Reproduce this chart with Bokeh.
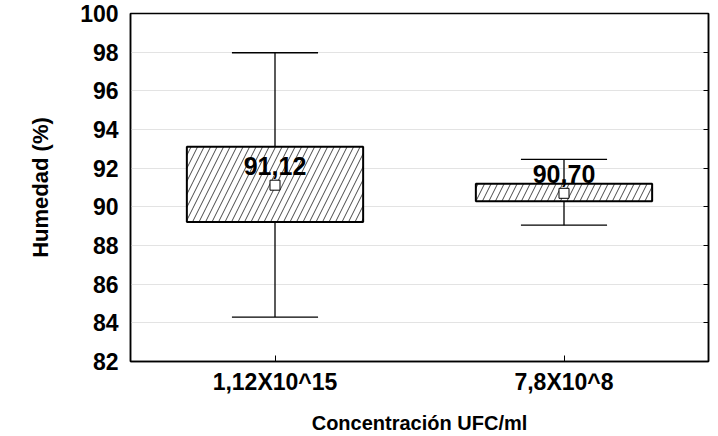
from bokeh.plotting import figure
from bokeh.models import ColumnDataSource, FactorRange, FixedTicker, LinearAxis, Range1d
from bokeh.transform import dodge
from bokeh.core.properties import value
from bokeh.embed import file_html
from bokeh.resources import INLINE

categories = ["1,12X10^15", "7,8X10^8"]
q1 = [89.21, 90.29]
q3 = [93.11, 91.20]
whisker_low = [84.30, 89.05]
whisker_high = [97.97, 92.45]
means = [91.12, 90.70]
mean_labels = ["91,12", "90,70"]
y_ticks = [82, 84, 86, 88, 90, 92, 94, 96, 98, 100]

FONT = "Liberation Sans"

src = ColumnDataSource(dict(cat=categories, q1=q1, q3=q3, lo=whisker_low, hi=whisker_high,
                            mean=means, lab=mean_labels))

p = figure(x_range=FactorRange(*categories), y_range=Range1d(82, 100),
           frame_width=578, frame_height=348,
           min_border_left=130, min_border_right=8, min_border_top=13, min_border_bottom=70,
           output_backend="svg", toolbar_location=None)

p.xgrid.grid_line_color = None
p.ygrid.grid_line_color = "#e3e3e3"
p.ygrid.grid_line_width = 1
p.ygrid.ticker = FixedTicker(ticks=y_ticks)
p.outline_line_color = "black"
p.outline_line_width = 1.5
p.background_fill_color = "white"

# whisker stem
p.segment(x0="cat", y0="lo", x1="cat", y1="hi", source=src, line_color="black", line_width=1.3)
# caps
p.segment(x0=dodge("cat", -0.149, range=p.x_range), y0="hi",
          x1=dodge("cat", 0.149, range=p.x_range), y1="hi", source=src,
          line_color="black", line_width=1.3)
p.segment(x0=dodge("cat", -0.149, range=p.x_range), y0="lo",
          x1=dodge("cat", 0.149, range=p.x_range), y1="lo", source=src,
          line_color="black", line_width=1.3)
# boxes
p.vbar(x="cat", top="q3", bottom="q1", width=0.61, source=src,
       fill_color="white", line_color="black", line_width=2,
       hatch_pattern="/", hatch_color="#333333", hatch_scale=13, hatch_weight=0.9)
# means
p.scatter(x="cat", y="mean", source=src, marker="square", size=10,
          fill_color="white", line_color="black", line_width=1)
p.text(x="cat", y="mean", text="lab", source=src, text_align="center", text_baseline="bottom",
       y_offset=-10, text_font=value(FONT), text_font_style="bold", text_font_size="25px",
       text_color="black")

# axes
ya = p.yaxis[0]
ya.ticker = FixedTicker(ticks=y_ticks)
ya.axis_label = "Humedad (%)"
ya.major_tick_in = 0
ya.major_tick_out = 0
ya.minor_tick_line_color = None
ya.axis_line_color = "black"
ya.axis_line_width = 1.5
ya.major_label_text_font = FONT
ya.major_label_text_font_style = "bold"
ya.major_label_text_font_size = "23px"
ya.major_label_text_color = "black"
ya.major_label_standoff = 12
ya.axis_label_text_font = FONT
ya.axis_label_text_font_style = "bold"
ya.axis_label_text_font_size = "22px"
ya.axis_label_text_color = "black"
ya.axis_label_standoff = 24

xa = p.xaxis[0]
xa.axis_label = "Concentración UFC/ml"
xa.major_tick_in = 6
xa.major_tick_out = 0
xa.major_tick_line_color = "black"
xa.major_tick_line_width = 1
xa.axis_line_color = "black"
xa.axis_line_width = 1.5
xa.major_label_text_font = FONT
xa.major_label_text_font_style = "bold"
xa.major_label_text_font_size = "23px"
xa.major_label_text_color = "black"
xa.major_label_standoff = 7
xa.axis_label_text_font = FONT
xa.axis_label_text_font_style = "bold"
xa.axis_label_text_font_size = "20px"
xa.axis_label_text_color = "black"
xa.axis_label_standoff = 14

ra = LinearAxis(ticker=FixedTicker(ticks=y_ticks))
ra.major_tick_in = 5
ra.major_tick_out = 0
ra.minor_tick_line_color = None
ra.major_label_overrides = {t: "" for t in y_ticks}
ra.major_label_standoff = 0
ra.axis_line_color = "black"
ra.axis_line_width = 1.5
p.add_layout(ra, "right")

open("out.html", "w").write(file_html(p, INLINE))
